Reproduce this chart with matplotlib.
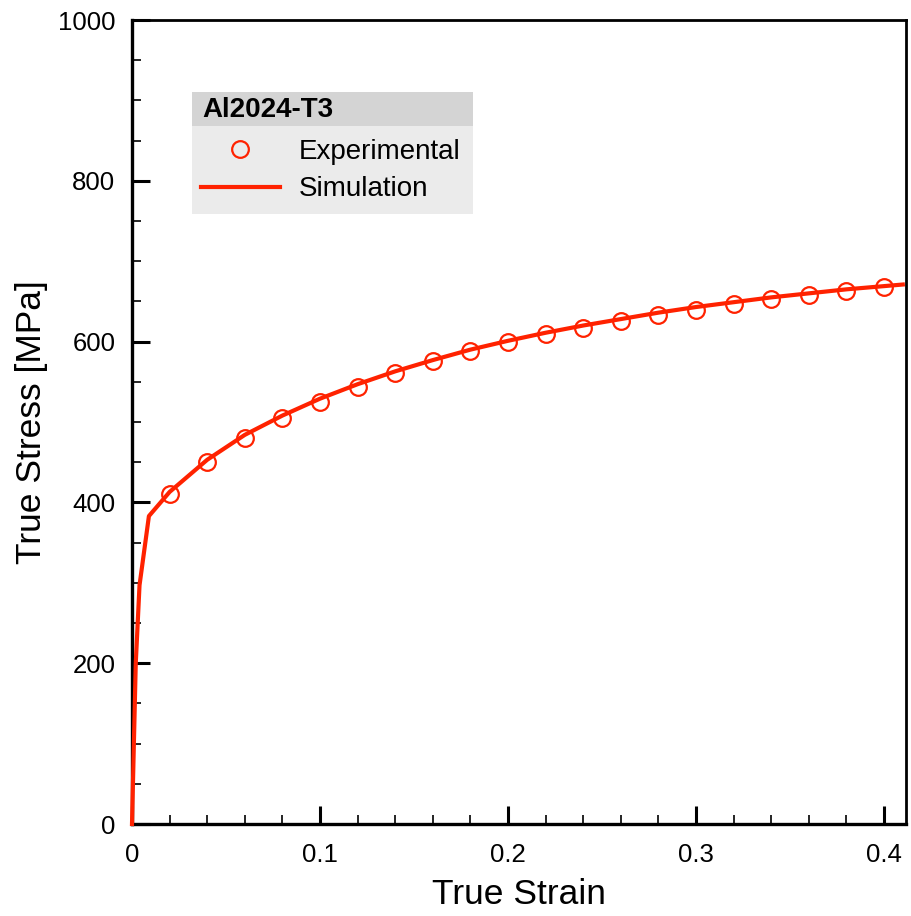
import matplotlib
matplotlib.use("Agg")
import matplotlib.pyplot as plt
from matplotlib.patches import Rectangle
from matplotlib.ticker import MultipleLocator

plt.rcParams['font.family'] = ['Liberation Sans', 'DejaVu Sans']

exp_strain = [0.02, 0.04, 0.06, 0.08, 0.10, 0.12, 0.14, 0.16, 0.18, 0.20,
              0.22, 0.24, 0.26, 0.28, 0.30, 0.32, 0.34, 0.36, 0.38, 0.40]
exp_stress = [410, 450, 480, 505, 525, 543, 561, 576, 588, 599,
              609, 617, 625, 633, 639, 647, 653, 658, 663, 668]

sim_strain = [0.0, 0.002, 0.004, 0.009, 0.02, 0.04, 0.06, 0.08, 0.10, 0.12, 0.14,
              0.16, 0.18, 0.20, 0.22, 0.24, 0.26, 0.28, 0.30, 0.32, 0.34,
              0.36, 0.38, 0.40, 0.41]
sim_stress = [0, 200, 297, 383, 413, 453, 484, 508, 529, 547, 563,
              577, 590, 601, 611, 620, 628, 636, 643, 649, 655,
              660, 665, 669, 671]

red = '#ff2200'
W, H = 911, 916
fig = plt.figure(figsize=(W / 100, H / 100), dpi=100)
ax = fig.add_axes([132 / W, (H - 824) / H, (906 - 132) / W, (824 - 20) / H])

ax.plot(sim_strain, sim_stress, color=red, lw=3.0, label='Simulation', zorder=3, clip_on=False)
ax.plot(exp_strain, exp_stress, linestyle='none', marker='o', ms=12, mfc='none',
        mec=red, mew=1.6, label='Experimental', zorder=4)

ax.set_xlim(0, 0.4117)
ax.set_ylim(0, 1000)
ax.set_xticks([0, 0.1, 0.2, 0.3, 0.4])
ax.set_xticklabels(['0', '0.1', '0.2', '0.3', '0.4'])
ax.xaxis.set_minor_locator(MultipleLocator(0.02))
ax.yaxis.set_major_locator(MultipleLocator(200))
ax.yaxis.set_minor_locator(MultipleLocator(50))
ax.tick_params(which='major', direction='in', length=13, width=2.2, labelsize=18.5)
ax.tick_params(axis='x', which='major', pad=14)
ax.tick_params(axis='y', which='major', pad=12)
ax.tick_params(which='minor', direction='in', length=6.5, width=1.2)
ax.tick_params(which='both', top=False, right=False)
for s in ['left', 'bottom']:
    ax.spines[s].set_linewidth(2.4)
for s in ['top', 'right']:
    ax.spines[s].set_linewidth(2.0)

ax.set_xlabel('True Strain', fontsize=25.5)
ax.set_ylabel('True Stress [MPa]', fontsize=25.5)
ax.xaxis.set_label_coords(0.5, -(878 - 824) / 804)
ax.yaxis.set_label_coords(-(132 - 48) / 774, 0.5)

# legend backgrounds (figure pixel coords)
ax.add_patch(Rectangle((192 / W, (H - 126) / H), (473 - 192) / W, 34 / H,
                       transform=fig.transFigure, facecolor='#d4d4d4', edgecolor='none',
                       zorder=1, clip_on=False))
ax.add_patch(Rectangle((192 / W, (H - 214) / H), (473 - 192) / W, 88 / H,
                       transform=fig.transFigure, facecolor='#ebebeb', edgecolor='none',
                       zorder=1, clip_on=False))
ax.text(202 / W, (H - 110) / H, 'Al2024-T3', transform=fig.transFigure, fontsize=20,
        fontweight='bold', va='center', ha='left', zorder=6)

handles, labels = ax.get_legend_handles_labels()
leg = ax.legend([handles[1], handles[0]], [labels[1], labels[0]], frameon=False,
                loc='center left', bbox_to_anchor=(201 / W, (H - 170.5) / H),
                bbox_transform=fig.transFigure, fontsize=20, handlelength=2.84,
                handletextpad=0.68, labelspacing=0.42, borderpad=0, borderaxespad=0)
leg.set_zorder(10)

fig.savefig('out.png', dpi=100)
